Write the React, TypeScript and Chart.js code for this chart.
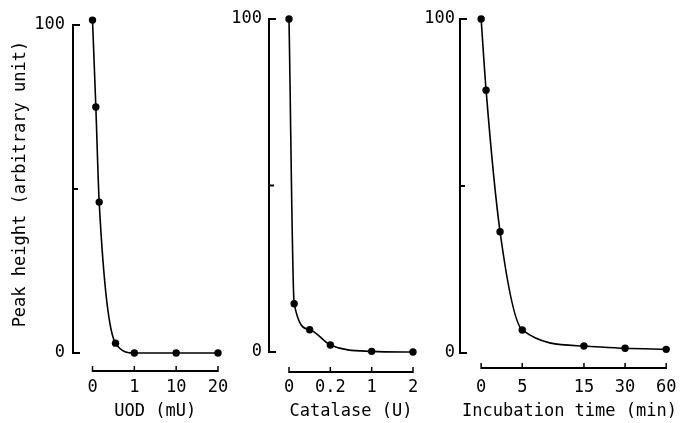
import React, { useEffect, useRef } from 'react';
import { Chart, registerables } from 'chart.js';

Chart.register(...registerables);

// ---- Data ----
const uodDose = [0, 0.08, 0.16, 0.55, 1, 10, 20];
const uodPeak = [101.5, 75, 46, 3, 0, 0, 0];
const uodTickValues = [0, 1, 10, 20];
const uodTickSlots = [0, 1, 2, 3];
const uodTickLabels = ['0', '1', '10', '20'];

const catalaseDose = [0, 0.025, 0.1, 0.2, 1, 2];
const catalasePeak = [100, 14.5, 6.7, 2.1, 0.2, 0];
const catalaseTickValues = [0, 0.2, 1, 2];
const catalaseTickSlots = [0, 1, 2, 3];
const catalaseTickLabels = ['0', '0.2', '1', '2'];

const incubationTime = [0, 0.6, 2.3, 5, 15, 30, 60];
const incubationPeak = [100, 78.7, 36.3, 6.9, 2.1, 1.4, 1.1];
const incubationTickValues = [0, 5, 15, 30, 60];
const incubationTickSlots = [0, 1, 2.5, 3.5, 4.5];
const incubationTickLabels = ['0', '5', '15', '30', '60'];

const yTickValues = [0, 50, 100];
const yTickLabels = ['0', '', '100'];
const Y_MAX = 103;

const yTitle = 'Peak height (arbitrary unit)';

const FONT = "'DejaVu Sans Mono', 'Liberation Mono', monospace";
const H = 423;

// piecewise-linear broken axis: real value -> slot on the drawn axis
function toSlot(v: number, values: number[], slots: number[]): number {
  for (let i = 1; i < values.length; i++) {
    if (v <= values[i]) {
      const t = (v - values[i - 1]) / (values[i] - values[i - 1]);
      return slots[i - 1] + t * (slots[i] - slots[i - 1]);
    }
  }
  return slots[slots.length - 1];
}

type PanelProps = {
  left: number;
  width: number;
  areaLeft: number;
  areaRight: number;
  zeroPx: number;
  lastPx: number;
  top100: number;
  bottom0: number;
  yAxisX: number;
  xAxisY: number;
  yLabelRight: number;
  xLabelCenter: number;
  showYTitle: boolean;
  xTitle: string;
  xs: number[];
  ys: number[];
  tickValues: number[];
  tickSlots: number[];
  tickLabels: string[];
};

function Panel(p: PanelProps) {
  const ref = useRef<HTMLCanvasElement | null>(null);
  useEffect(() => {
    if (!ref.current) return;
    const points = p.xs.map((v, i) => ({ x: toSlot(v, p.tickValues, p.tickSlots), y: p.ys[i] }));
    const lastSlot = p.tickSlots[p.tickSlots.length - 1];
    const ppu = (p.lastPx - p.zeroPx) / lastSlot;
    const slotMin = -(p.zeroPx - p.areaLeft) / ppu;
    const slotMax = lastSlot + (p.areaRight - p.lastPx) / ppu;
    const padTop = p.top100 - ((p.bottom0 - p.top100) * (Y_MAX - 100)) / 100;
    const padRight = p.left + p.width - p.areaRight;
    const yWidth = p.areaLeft - p.left;
    const xHeight = H - p.bottom0;
    const tickFont = 17;
    const xLabelPad = p.xLabelCenter - p.bottom0 - (tickFont * 1.2) / 2;

    const axesPlugin = {
      id: 'offsetAxes',
      afterDatasetsDraw(chart: any) {
        const { ctx, scales } = chart;
        const x = scales.x;
        const y = scales.y;
        ctx.save();
        ctx.strokeStyle = '#000';
        ctx.lineWidth = 2;
        ctx.lineJoin = 'miter';
        ctx.lineCap = 'butt';
        const ax = p.yAxisX - p.left;
        const y0 = y.getPixelForValue(yTickValues[0]);
        const yTop = y.getPixelForValue(yTickValues[yTickValues.length - 1]);
        ctx.beginPath();
        ctx.moveTo(ax + 7, yTop);
        ctx.lineTo(ax, yTop);
        ctx.lineTo(ax, y0);
        ctx.lineTo(ax + 7, y0);
        ctx.stroke();
        for (let i = 1; i < yTickValues.length - 1; i++) {
          const py = y.getPixelForValue(yTickValues[i]);
          ctx.beginPath();
          ctx.moveTo(ax, py);
          ctx.lineTo(ax + 5, py);
          ctx.stroke();
        }
        const ly = p.xAxisY;
        ctx.lineWidth = 1.8;
        ctx.beginPath();
        ctx.moveTo(x.getPixelForValue(p.tickSlots[0]), ly);
        ctx.lineTo(x.getPixelForValue(lastSlot), ly);
        ctx.stroke();
        ctx.lineWidth = 1.5;
        p.tickSlots.forEach((s) => {
          const px = x.getPixelForValue(s);
          ctx.beginPath();
          ctx.moveTo(px, ly + 0.9);
          ctx.lineTo(px, ly - 5);
          ctx.stroke();
        });
        ctx.restore();
      },
    };

    const noPad = (s: any) => {
      s.paddingLeft = 0;
      s.paddingRight = 0;
      s.paddingTop = 0;
      s.paddingBottom = 0;
    };

    const chart = new Chart(ref.current, {
      type: 'line',
      data: {
        datasets: [
          {
            data: points,
            borderColor: '#000',
            borderWidth: 1.6,
            backgroundColor: '#000',
            pointBackgroundColor: '#000',
            pointBorderColor: '#000',
            pointBorderWidth: 0,
            pointRadius: 3.7,
            cubicInterpolationMode: 'monotone',
            clip: false as any,
            fill: false,
          },
        ],
      },
      options: {
        responsive: false,
        animation: false,
        devicePixelRatio: 1,
        layout: { padding: { left: 0, top: padTop, right: padRight, bottom: 0 } },
        plugins: { legend: { display: false }, tooltip: { enabled: false } },
        scales: {
          x: {
            type: 'linear',
            min: slotMin,
            max: slotMax,
            grid: { display: false, drawTicks: false },
            border: { display: false },
            afterBuildTicks: (s: any) => {
              s.ticks = p.tickSlots.map((v) => ({ value: v }));
            },
            afterFit: (s: any) => {
              s.height = xHeight;
              noPad(s);
            },
            ticks: {
              autoSkip: false,
              maxRotation: 0,
              padding: xLabelPad,
              color: '#000',
              font: { family: FONT, size: tickFont },
              callback: (_v: any, i: number) => p.tickLabels[i],
            },
            title: {
              display: true,
              text: p.xTitle,
              color: '#000',
              font: { family: FONT, size: 17 },
              padding: { top: 0, bottom: 1 },
            },
          },
          y: {
            type: 'linear',
            min: 0,
            max: Y_MAX,
            grid: { display: false, drawTicks: false },
            border: { display: false },
            afterBuildTicks: (s: any) => {
              s.ticks = yTickValues.map((v) => ({ value: v }));
            },
            afterFit: (s: any) => {
              s.width = yWidth;
              noPad(s);
            },
            ticks: {
              padding: p.areaLeft - p.yLabelRight,
              color: '#000',
              font: { family: FONT, size: tickFont },
              callback: (_v: any, i: number) => yTickLabels[i],
            },
            title: {
              display: p.showYTitle,
              text: yTitle,
              color: '#000',
              font: { family: FONT, size: 17 },
              padding: { top: 10, bottom: 0 },
            },
          },
        },
      } as any,
      plugins: [axesPlugin],
    });
    return () => chart.destroy();
  }, []);
  return (
    <canvas
      ref={ref}
      width={p.width}
      height={H}
      style={{ position: 'absolute', left: p.left, top: 0, width: p.width, height: H }}
    />
  );
}

export default function App() {
  return (
    <div style={{ position: 'absolute', left: 0, top: 0, width: 681, height: 423, background: '#fff', overflow: 'hidden' }}>
      <Panel
        left={0}
        width={232}
        areaLeft={92.5}
        areaRight={218}
        zeroPx={92.5}
        lastPx={218}
        top100={25}
        bottom0={353}
        yAxisX={73}
        xAxisY={371}
        yLabelRight={65}
        xLabelCenter={388}
        showYTitle={true}
        xTitle="UOD (mU)"
        xs={uodDose}
        ys={uodPeak}
        tickValues={uodTickValues}
        tickSlots={uodTickSlots}
        tickLabels={uodTickLabels}
      />
      <Panel
        left={222}
        width={210}
        areaLeft={289}
        areaRight={413}
        zeroPx={289}
        lastPx={413}
        top100={19}
        bottom0={352}
        yAxisX={269}
        xAxisY={372}
        yLabelRight={262}
        xLabelCenter={388}
        showYTitle={false}
        xTitle="Catalase (U)"
        xs={catalaseDose}
        ys={catalasePeak}
        tickValues={catalaseTickValues}
        tickSlots={catalaseTickSlots}
        tickLabels={catalaseTickLabels}
      />
      <Panel
        left={418}
        width={263}
        areaLeft={462}
        areaRight={681}
        zeroPx={481.5}
        lastPx={670}
        top100={19}
        bottom0={353}
        yAxisX={460}
        xAxisY={368}
        yLabelRight={455}
        xLabelCenter={388}
        showYTitle={false}
        xTitle="Incubation time (min)"
        xs={incubationTime}
        ys={incubationPeak}
        tickValues={incubationTickValues}
        tickSlots={incubationTickSlots}
        tickLabels={incubationTickLabels}
      />
    </div>
  );
}
